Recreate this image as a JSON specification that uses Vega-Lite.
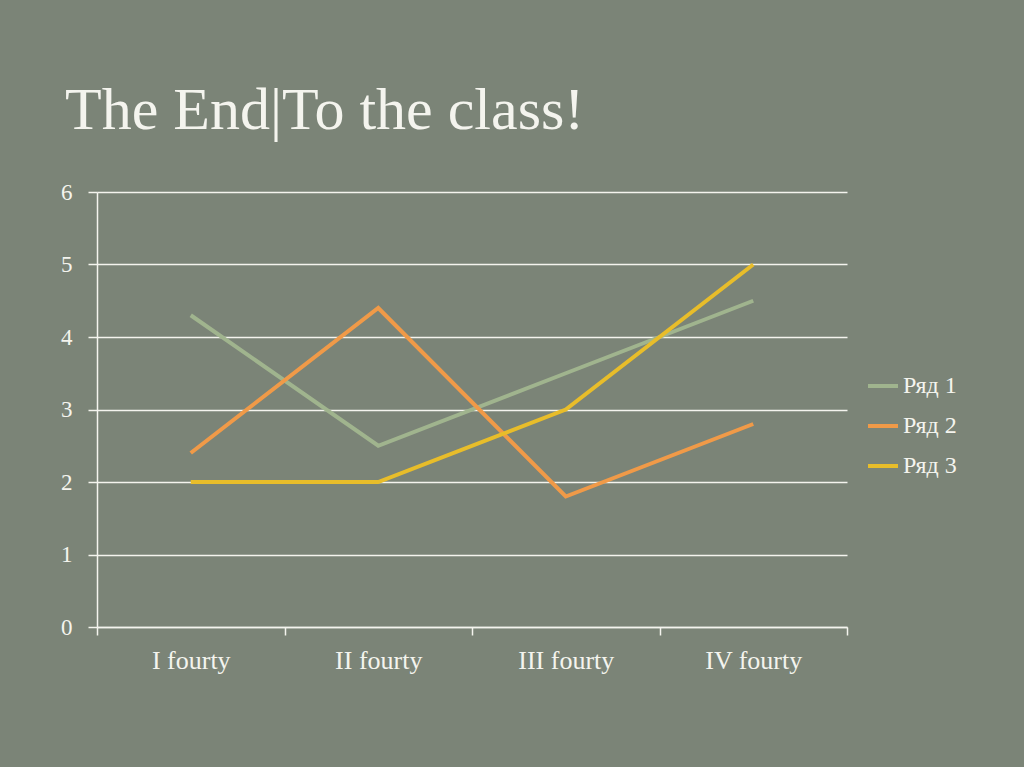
{
  "$schema": "https://vega.github.io/schema/vega-lite/v6.json",
  "width": 750,
  "height": 435,
  "autosize": {"type": "none"},
  "padding": {"left": 97, "top": 192, "right": 177, "bottom": 140},
  "background": "#7b8477",
  "title": {
    "text": "The End|To the class!",
    "anchor": "start",
    "frame": "group",
    "dx": -32,
    "offset": -8,
    "baseline": "alphabetic",
    "font": "Liberation Serif",
    "fontSize": 60,
    "fontWeight": "normal",
    "color": "#f4f4ee"
  },
  "data": {
    "values": [
      {"quarter": "I fourty", "series": "Ряд 1", "value": 4.3},
      {"quarter": "II fourty", "series": "Ряд 1", "value": 2.5},
      {"quarter": "III fourty", "series": "Ряд 1", "value": 3.5},
      {"quarter": "IV fourty", "series": "Ряд 1", "value": 4.5},
      {"quarter": "I fourty", "series": "Ряд 2", "value": 2.4},
      {"quarter": "II fourty", "series": "Ряд 2", "value": 4.4},
      {"quarter": "III fourty", "series": "Ряд 2", "value": 1.8},
      {"quarter": "IV fourty", "series": "Ряд 2", "value": 2.8},
      {"quarter": "I fourty", "series": "Ряд 3", "value": 2.0},
      {"quarter": "II fourty", "series": "Ряд 3", "value": 2.0},
      {"quarter": "III fourty", "series": "Ряд 3", "value": 3.0},
      {"quarter": "IV fourty", "series": "Ряд 3", "value": 5.0}
    ]
  },
  "mark": {"type": "line", "strokeWidth": 4, "strokeCap": "butt", "strokeJoin": "miter"},
  "encoding": {
    "x": {
      "field": "quarter",
      "type": "nominal",
      "sort": ["I fourty", "II fourty", "III fourty", "IV fourty"],
      "bandPosition": 0.5,
      "scale": {"type": "band", "paddingInner": 0, "paddingOuter": 0},
      "axis": {
        "title": null,
        "labelAngle": 0,
        "tickBand": "extent",
        "grid": false,
        "domainColor": "#f4f4ee",
        "domainWidth": 1.5,
        "tickColor": "#f4f4ee",
        "tickWidth": 1.5,
        "tickSize": 8,
        "labelPadding": 12,
        "labelFont": "Liberation Serif",
        "labelFontSize": 26,
        "labelColor": "#f4f4ee"
      }
    },
    "y": {
      "field": "value",
      "type": "quantitative",
      "scale": {"domain": [0, 6], "nice": false},
      "axis": {
        "title": null,
        "values": [0, 1, 2, 3, 4, 5, 6],
        "grid": true,
        "gridColor": "#f4f4ee",
        "gridWidth": 1.5,
        "gridOpacity": 1,
        "domainColor": "#f4f4ee",
        "domainWidth": 1.5,
        "tickColor": "#f4f4ee",
        "tickWidth": 1.5,
        "tickSize": 9,
        "labelPadding": 16,
        "labelFont": "Liberation Serif",
        "labelFontSize": 23,
        "labelColor": "#f4f4ee"
      }
    },
    "color": {
      "field": "series",
      "type": "nominal",
      "scale": {"domain": ["Ряд 1", "Ряд 2", "Ряд 3"], "range": ["#a0b48e", "#f09a48", "#e8bd2a"]},
      "legend": {
        "title": null,
        "orient": "none",
        "legendX": 769,
        "legendY": 177,
        "symbolType": "stroke",
        "symbolSize": 900,
        "symbolStrokeWidth": 4,
        "rowPadding": 11,
        "labelFont": "Liberation Serif",
        "labelFontSize": 24,
        "labelColor": "#f4f4ee",
        "labelOffset": 3
      }
    }
  },
  "config": {
    "view": {"stroke": null}
  }
}
